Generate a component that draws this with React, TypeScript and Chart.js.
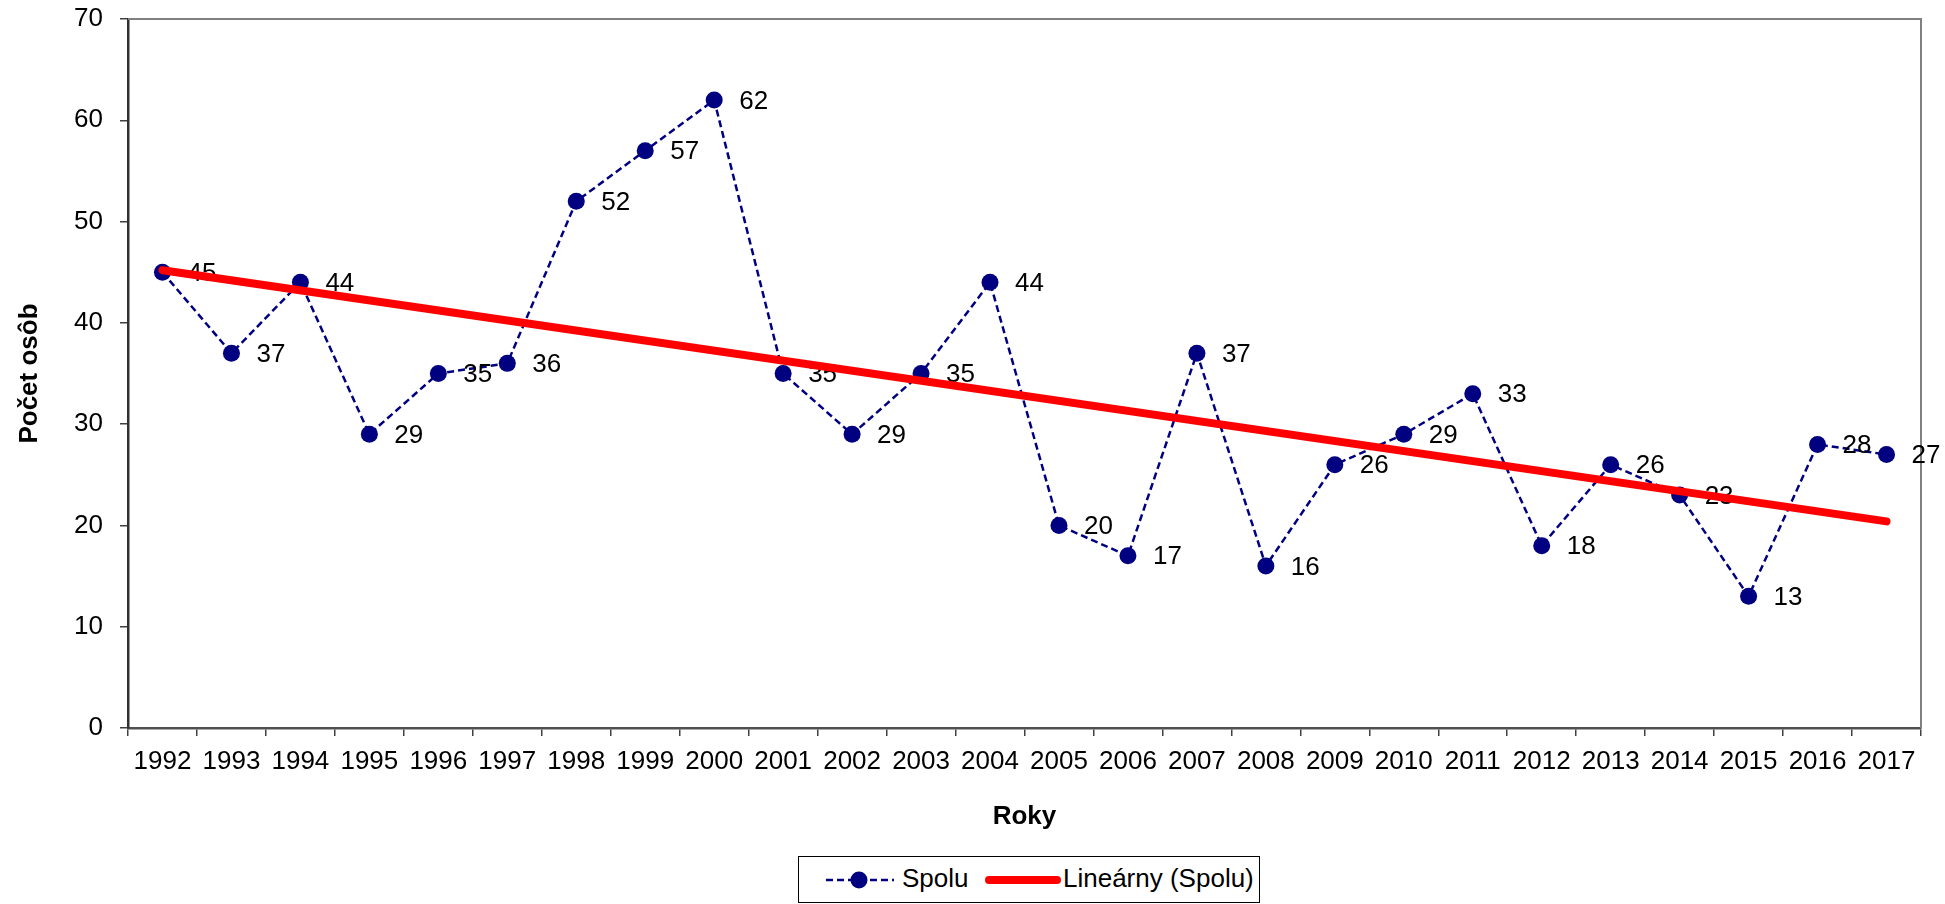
import React, { useEffect, useRef } from "react";
import { Chart, registerables } from "chart.js";

Chart.register(...registerables);

const years = ["1992","1993","1994","1995","1996","1997","1998","1999","2000","2001","2002","2003","2004","2005","2006","2007","2008","2009","2010","2011","2012","2013","2014","2015","2016","2017"];
const spolu = [45,37,44,29,35,36,52,57,62,35,29,35,44,20,17,37,16,26,29,33,18,26,23,13,28,27];
const trendEnds = [45.2, 20.4];
const yTicks = [0, 10, 20, 30, 40, 50, 60, 70];

const FONT = '"Liberation Sans", Arial, sans-serif';
const NAVY = "#000080";
const RED = "#FF0000";

const labelPlugin = {
  id: "pointLabels",
  afterDatasetDraw(chart: any, args: any) {
    if (args.index !== 0) return;
    const ctx = chart.ctx;
    const meta = chart.getDatasetMeta(0);
    ctx.save();
    ctx.font = `26px ${FONT}`;
    ctx.fillStyle = "#000";
    ctx.textAlign = "left";
    ctx.textBaseline = "middle";
    meta.data.forEach((pt: any, i: number) => {
      ctx.fillText(String(spolu[i]), pt.x + 25, pt.y + 1.5);
    });
    ctx.restore();
  },
};

const borderPlugin = {
  id: "plotBorder",
  beforeDatasetsDraw(chart: any) {
    const { ctx, chartArea } = chart;
    ctx.save();
    ctx.strokeStyle = "#808080";
    ctx.lineWidth = 2;
    ctx.beginPath();
    ctx.moveTo(chartArea.left, chartArea.top);
    ctx.lineTo(chartArea.right, chartArea.top);
    ctx.lineTo(chartArea.right, chartArea.bottom);
    ctx.stroke();
    ctx.restore();
  },
};

export default function App() {
  const ref = useRef<HTMLCanvasElement | null>(null);

  useEffect(() => {
    document.body.style.margin = "0";
    if (!ref.current) return;
    const last = years.length - 1;
    const trendData = years.map((_, i) => (i === 0 ? trendEnds[0] : i === last ? trendEnds[1] : null));
    const chart = new Chart(ref.current, {
      type: "line",
      data: {
        labels: years,
        datasets: [
          {
            label: "Spolu",
            data: spolu,
            borderColor: NAVY,
            backgroundColor: NAVY,
            borderWidth: 2.5,
            borderDash: [7, 4],
            pointRadius: 8.5,
            pointBackgroundColor: NAVY,
            pointBorderColor: NAVY,
            pointBorderWidth: 0,
            tension: 0,
            order: 1,
          },
          {
            label: "Lineárny (Spolu)",
            data: trendData,
            borderColor: RED,
            backgroundColor: RED,
            borderWidth: 8,
            borderCapStyle: "round",
            pointRadius: 0,
            spanGaps: true,
            tension: 0,
            order: 0,
          },
        ],
      },
      options: {
        animation: false,
        responsive: true,
        maintainAspectRatio: false,
        layout: { padding: { left: 0, top: 19, right: 24, bottom: 72 } },
        plugins: {
          legend: { display: false },
          tooltip: { enabled: false },
        },
        scales: {
          x: {
            type: "category",
            offset: true,
            grid: {
              display: true,
              offset: true,
              drawOnChartArea: false,
              drawTicks: true,
              tickLength: 8,
              color: "#404040",
              lineWidth: 1.5,
            },
            border: { display: true, color: "#505050", width: 2.5 },
            ticks: {
              color: "#000",
              font: { family: FONT, size: 26 },
              padding: 10,
              maxRotation: 0,
              autoSkip: false,
            },
            title: {
              display: true,
              text: "Roky",
              color: "#000",
              font: { family: FONT, size: 26, weight: "bold" },
              padding: { top: 0, bottom: 0 },
            },
            afterFit(scale: any) {
              scale.height = 104;
              scale.paddingLeft = 0;
              scale.paddingRight = 0;
            },
          },
          y: {
            min: 0,
            max: 70,
            afterBuildTicks(scale: any) {
              scale.ticks = yTicks.map((v) => ({ value: v }));
            },
            grid: {
              display: true,
              drawOnChartArea: false,
              drawTicks: true,
              tickLength: 8,
              color: "#404040",
              lineWidth: 1.5,
            },
            border: { display: true, color: "#303030", width: 2.5 },
            ticks: {
              color: "#000",
              font: { family: FONT, size: 26 },
              padding: 17,
            },
            title: {
              display: true,
              text: "Počet osôb",
              color: "#000",
              font: { family: FONT, size: 26, weight: "bold" },
              padding: { top: 14, bottom: 0 },
            },
            afterFit(scale: any) {
              scale.width = 128;
              scale.paddingTop = 0;
              scale.paddingBottom = 0;
            },
          },
        },
      },
      plugins: [labelPlugin, borderPlugin],
    });
    return () => chart.destroy();
  }, []);

  return (
    <div style={{ position: "relative", width: 1945, height: 904, background: "#fff", fontFamily: FONT }}>
      <canvas ref={ref} />
      <div
        style={{
          position: "absolute",
          left: 798,
          top: 856,
          width: 462,
          height: 47,
          border: "1.5px solid #000",
          boxSizing: "border-box",
          background: "#fff",
        }}
      >
        <svg style={{ position: "absolute", left: 25, top: 10 }} width={72} height={26}>
          <line x1={2} y1={13} x2={70} y2={13} stroke={NAVY} strokeWidth={2.5} strokeDasharray="7 4" />
          <circle cx={35} cy={13} r={8.5} fill={NAVY} />
        </svg>
        <span style={{ position: "absolute", left: 103, top: 6, fontSize: 26, lineHeight: "30px", color: "#000", whiteSpace: "nowrap" }}>Spolu</span>
        <svg style={{ position: "absolute", left: 185, top: 10 }} width={80} height={26}>
          <line x1={5} y1={13} x2={73} y2={13} stroke={RED} strokeWidth={8} strokeLinecap="round" />
        </svg>
        <span style={{ position: "absolute", left: 264, top: 6, fontSize: 26, lineHeight: "30px", color: "#000", whiteSpace: "nowrap" }}>Lineárny (Spolu)</span>
      </div>
    </div>
  );
}
